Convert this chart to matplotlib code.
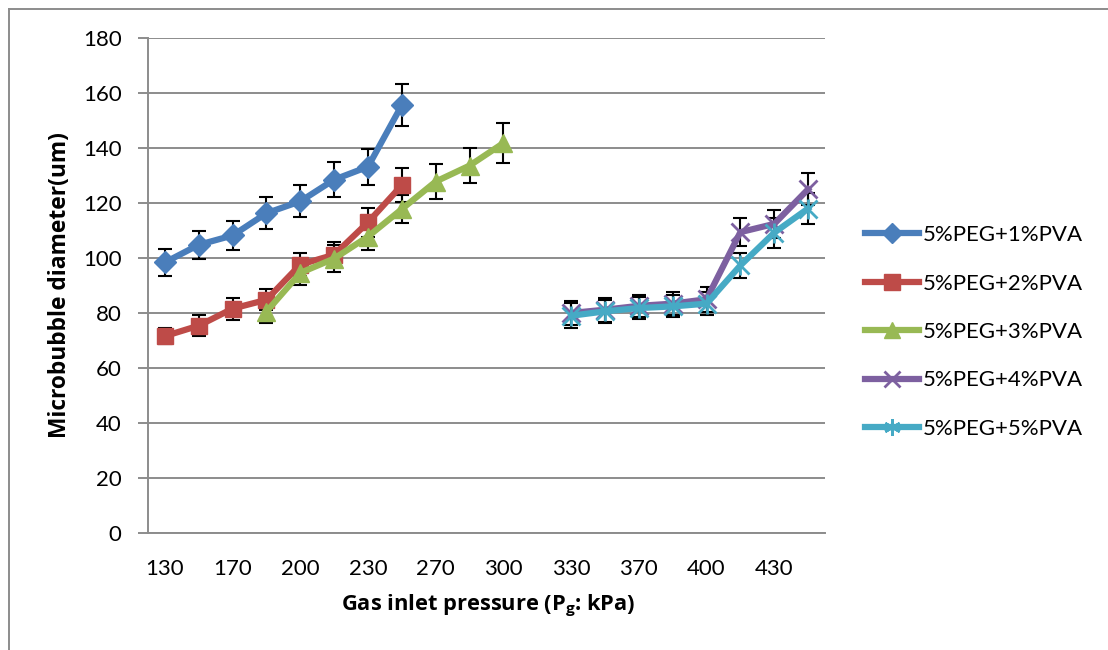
import matplotlib
matplotlib.use("Agg")
import matplotlib.pyplot as plt
from matplotlib.lines import Line2D
import numpy as np

# Pressure categories (kPa); only every other one carries a label
pressures = [130, 150, 170, 185, 200, 215, 230, 250, 270, 285,
             300, 315, 330, 350, 370, 385, 400, 415, 430, 450]
shown_labels = ["130", "170", "200", "230", "270", "300", "330", "370", "400", "430"]

series_names = ["5%PEG+1%PVA", "5%PEG+2%PVA", "5%PEG+3%PVA",
                "5%PEG+4%PVA", "5%PEG+5%PVA"]

# (first category index, mean diameters, error half-widths)
peg_pva1_start = 0
peg_pva1 = [98.4, 104.8, 108.2, 116.3, 120.6, 128.5, 133.2, 155.6]
peg_pva1_err = [4.9, 5.1, 5.3, 5.8, 5.8, 6.3, 6.5, 7.7]

peg_pva2_start = 0
peg_pva2 = [71.6, 75.4, 81.6, 84.8, 97.6, 101.2, 113.0, 126.5]
peg_pva2_err = [3.0, 3.8, 4.0, 3.8, 4.2, 4.6, 5.3, 6.3]

peg_pva3_start = 3
peg_pva3 = [80.5, 94.6, 99.8, 107.8, 117.8, 127.8, 133.6, 141.8]
peg_pva3_err = [4.0, 4.4, 4.8, 5.0, 5.2, 6.3, 6.5, 7.3]

peg_pva4_start = 12
peg_pva4 = [80.0, 81.2, 82.6, 83.4, 85.0, 109.4, 112.4, 125.0]
peg_pva4_err = [4.5, 4.4, 4.0, 4.2, 4.5, 5.2, 5.2, 5.8]

peg_pva5_start = 12
peg_pva5 = [79.0, 80.6, 81.8, 82.4, 83.4, 97.3, 109.2, 118.0]
peg_pva5_err = [4.5, 4.3, 4.0, 4.0, 4.2, 4.7, 5.5, 5.7]

colors = ["#4a7ebb", "#be4b48", "#98b954", "#7d60a0", "#46aac5"]
markers = ["D", "s", "^", "x", "*"]
marker_sizes = [11, 12, 13, 13, 13]

series = [
    (peg_pva1_start, peg_pva1, peg_pva1_err),
    (peg_pva2_start, peg_pva2, peg_pva2_err),
    (peg_pva3_start, peg_pva3, peg_pva3_err),
    (peg_pva4_start, peg_pva4, peg_pva4_err),
    (peg_pva5_start, peg_pva5, peg_pva5_err),
]

plt.rcParams["font.family"] = ["Lato", "DejaVu Sans"]

fig = plt.figure(figsize=(11.08, 6.5), dpi=100)
ax = fig.add_axes([148 / 1108, 1 - 533 / 650, (825 - 148) / 1108, (533 - 38) / 650])

grid_color = "#8c8c8c"
ax.set_ylim(0, 180)
ax.set_yticks(np.arange(0, 181, 20))
ax.set_xlim(-0.5, len(pressures) - 0.5)
ax.yaxis.grid(True, color=grid_color, linewidth=1.4)
ax.set_axisbelow(True)

for side in ("top", "right"):
    ax.spines[side].set_visible(False)
ax.spines["left"].set_color(grid_color)
ax.spines["bottom"].set_color(grid_color)
ax.spines["left"].set_linewidth(1.4)
ax.spines["bottom"].set_linewidth(1.4)

ax.set_xticks(np.arange(0, len(pressures), 2))
ax.set_xticklabels(shown_labels)
ax.tick_params(axis="x", length=0, pad=19, labelsize=16)
ax.tick_params(axis="y", length=7, width=1.4, color=grid_color, pad=12, labelsize=16)

handles = []
for (start, vals, errs), c, m, ms, name in zip(series, colors, markers, marker_sizes, series_names):
    x = np.arange(start, start + len(vals))
    mew = 2.0 if m in ("x", "*") else 1.0
    ax.errorbar(x, vals, yerr=errs, fmt="none", ecolor="black",
                elinewidth=1.5, capsize=5, capthick=1.5, zorder=2)
    if m == "*":
        # asterisk-style marker drawn as a plus overlaid on an x
        ax.plot(x, vals, color=c, linewidth=4.5, marker="x", markersize=ms,
                markeredgewidth=mew, zorder=3)
        ax.plot(x, vals, linestyle="none", color=c, marker="|",
                markersize=ms + 2, markeredgewidth=mew, zorder=3)
        h = Line2D([], [], color=c, linewidth=4.5, marker=(6, 2, 0),
                   markersize=ms - 1, markeredgewidth=mew, markeredgecolor=c)
    else:
        ax.plot(x, vals, color=c, linewidth=4.5, marker=m, markersize=ms,
                markeredgewidth=mew, markeredgecolor=c, zorder=3)
        h = Line2D([], [], color=c, linewidth=4.5, marker=m, markersize=ms - 1,
                   markeredgewidth=mew, markeredgecolor=c)
    handles.append(h)

# Axis titles, centred on the plot area and sized to a fixed pixel length
label_family = ["Open Sans", "DejaVu Sans"]
ylab = fig.text(60 / 1108, 1 - 285 / 650, "Microbubble diameter(um)", rotation=90,
                ha="center", va="center", family=label_family, fontsize=14,
                fontweight="bold")
xlab = fig.text(488 / 1108, 1 - 606 / 650, r"Gas inlet pressure (P$_\mathregular{g}$: kPa)",
                ha="center", va="center", family=label_family, fontsize=14,
                fontweight="bold")
renderer = fig.canvas.get_renderer()
for lab, target, dim in ((ylab, 308.0, "height"), (xlab, 296.0, "width")):
    ext = lab.get_window_extent(renderer)
    lab.set_fontsize(lab.get_fontsize() * target / getattr(ext, dim))

leg = fig.legend(handles, series_names, loc="center left",
                 bbox_to_anchor=(865 / 1108, 1 - 332 / 650), frameon=False,
                 fontsize=16, labelspacing=1.28, handlelength=2.45,
                 handletextpad=0.15, borderpad=0, borderaxespad=0)

# Chart frame (top and left edges)
frame_color = "#8c8c8c"
fig.add_artist(Line2D([8.5 / 1108, 1.0], [1 - 8.5 / 650, 1 - 8.5 / 650],
                      transform=fig.transFigure, color=frame_color, linewidth=1.4))
fig.add_artist(Line2D([8.5 / 1108, 8.5 / 1108], [0.0, 1 - 8.5 / 650],
                      transform=fig.transFigure, color=frame_color, linewidth=1.4))

fig.savefig("out.png", dpi=100)
